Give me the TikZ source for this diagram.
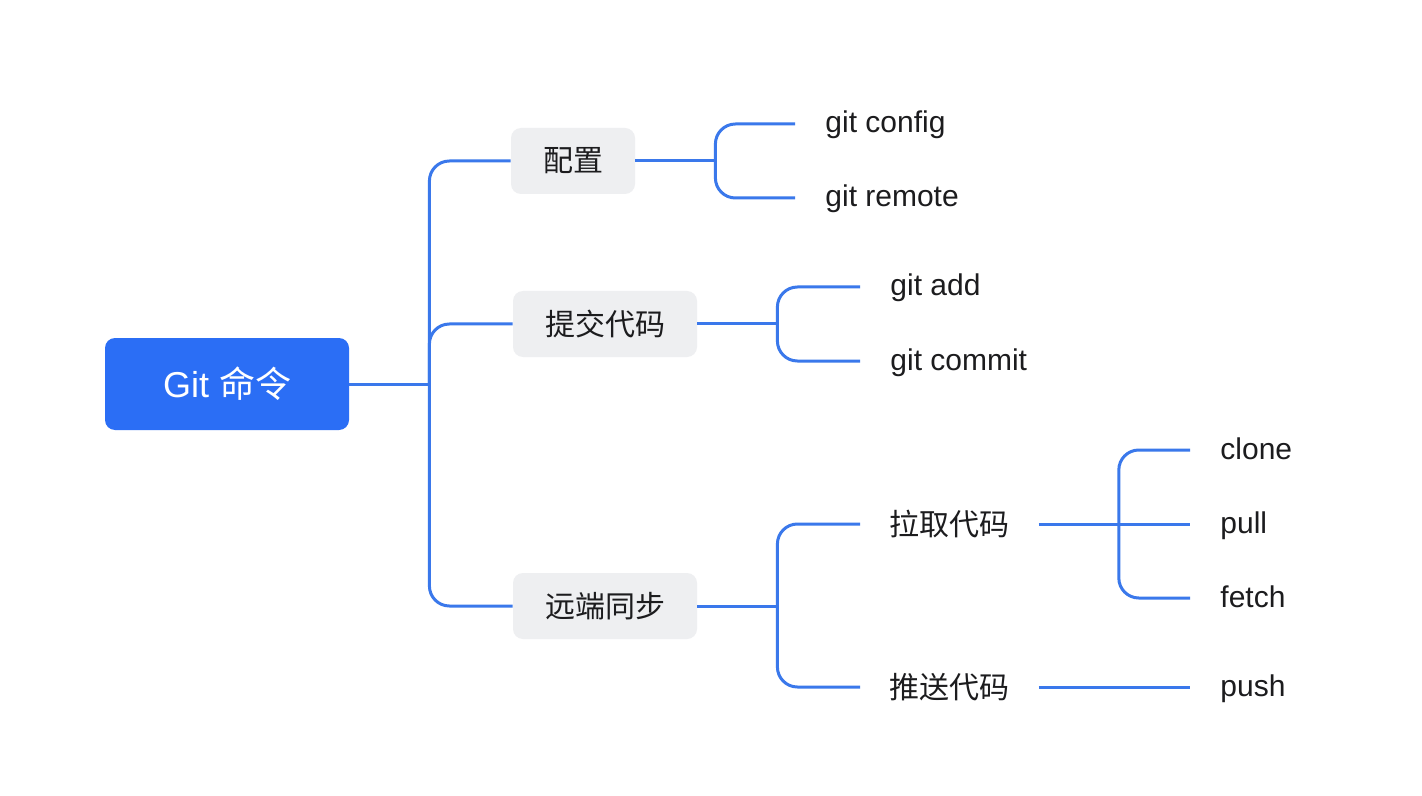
\documentclass[tikz,border=0pt]{standalone}
\usepackage{fontspec}
\setmainfont{Liberation Sans}
\newfontfamily\cjk{Noto Sans CJK SC}
\usepackage{tikz}
\usetikzlibrary{positioning,calc}

\definecolor{gitblue}{RGB}{43,110,245}
\definecolor{linkblue}{RGB}{58,120,235}
\definecolor{boxgray}{RGB}{238,239,241}
\definecolor{inkdark}{RGB}{28,28,30}

\tikzset{
  rootbox/.style={fill=gitblue, rounded corners=5pt, text=white,
    font=\fontsize{18}{20}\selectfont, minimum width=122pt, minimum height=46pt},
  topicbox/.style={fill=boxgray, rounded corners=5pt, text=inkdark,
    font=\cjk\fontsize{15}{18}\selectfont, inner xsep=16pt, minimum height=33pt},
  subtopic/.style={anchor=west, inner xsep=14.5pt, text=inkdark,
    font=\cjk\fontsize{15}{18}\selectfont},
  leaf/.style={anchor=west, inner xsep=15pt, text=inkdark,
    text height=10.5pt, text depth=1.5pt,
    font=\fontsize{15}{18}\selectfont},
  branch/.style={draw=linkblue, line width=1.5pt, rounded corners=10pt},
}

\begin{document}
\begin{tikzpicture}[x=0.5pt, y=-0.5pt]
  % Canvas
  \fill[white] (0,0) rectangle (1422,796);
  \useasboundingbox (0,0) rectangle (1422,796);

  % Root and main topics
  \node[rootbox] (root) at (227,384) {Git {\cjk 命令}};
  \node[topicbox] (cfg) at (573,161) {配置};
  \node[topicbox] (commit) at (605,324) {提交代码};
  \node[topicbox] (sync) at (605,606) {远端同步};

  % Subtopics under sync
  \node[subtopic] (pullcode) at (860,524) {拉取代码};
  \node[subtopic] (pushcode) at (860,687) {推送代码};

  % Leaves
  \node[leaf] (config) at (795,124) {git config};
  \node[leaf] (remote) at (795,198) {git remote};
  \node[leaf] (add) at (860,287) {git add};
  \node[leaf] (gcommit) at (860,361) {git commit};
  \node[leaf] (clone) at (1190,450) {clone};
  \node[leaf] (pull) at (1190,524) {pull};
  \node[leaf] (fetch) at (1190,598) {fetch};
  \node[leaf] (push) at (1190,687) {push};

  % Junctions
  \coordinate (j0) at ($(root.east)+(80,0)$);
  \coordinate (j1) at ($(cfg.east)+(80,0)$);
  \coordinate (j2) at ($(commit.east)+(80,0)$);
  \coordinate (j3) at ($(sync.east)+(80,0)$);
  \coordinate (j4) at ($(pullcode.east)+(80,0)$);

  % Connectors
  \draw[branch] (root.east) -- (j0);
  \foreach \t in {cfg,commit,sync}
    \draw[branch] (j0) |- (\t.west);
  \draw[branch] (cfg.east) -- (j1);
  \foreach \t in {config,remote}
    \draw[branch] (j1) |- (\t.west);
  \draw[branch] (commit.east) -- (j2);
  \foreach \t in {add,gcommit}
    \draw[branch] (j2) |- (\t.west);
  \draw[branch] (sync.east) -- (j3);
  \foreach \t in {pullcode,pushcode}
    \draw[branch] (j3) |- (\t.west);
  \draw[branch] (pullcode.east) -- (pull.west);
  \foreach \t in {clone,fetch}
    \draw[branch] (j4) |- (\t.west);
  \draw[branch] (pushcode.east) -- (push.west);
\end{tikzpicture}
\end{document}
